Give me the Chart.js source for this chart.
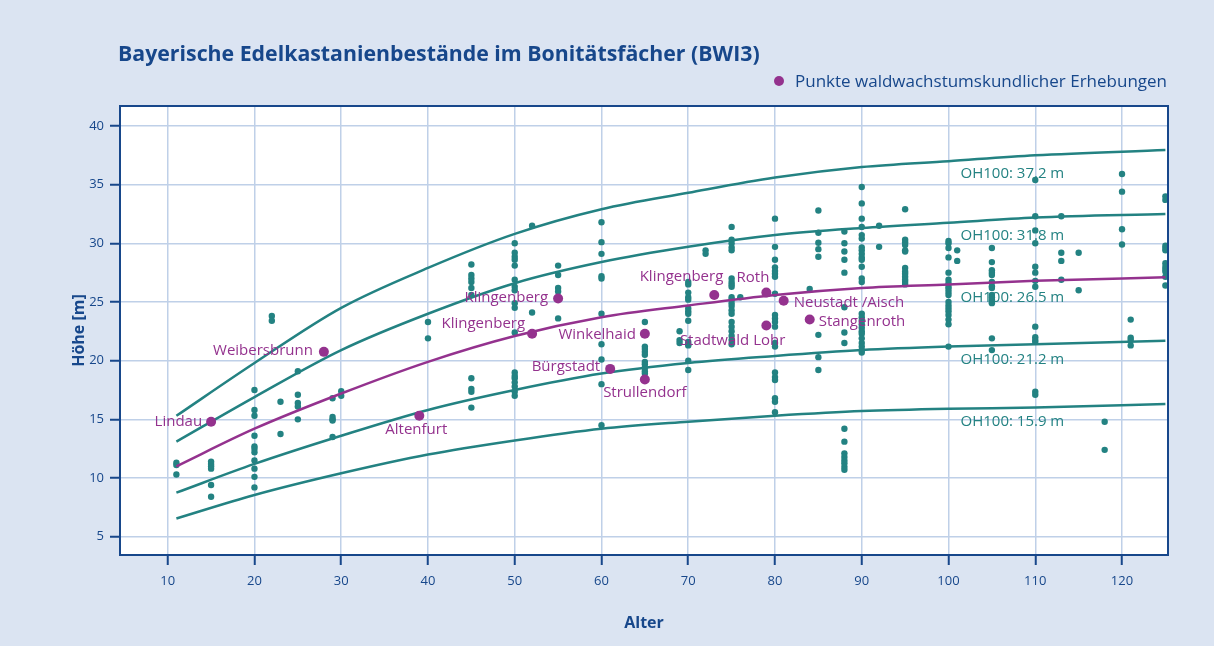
<!DOCTYPE html>
<html>
<head>
<meta charset="utf-8">
<script src="https://cdn.jsdelivr.net/npm/chart.js@4/dist/chart.umd.min.js"></script>
<style>
  body { margin: 0; background: #dbe4f2; font-family: "Open Sans", sans-serif; }
  #wrap { position: relative; width: 1214px; height: 646px; }
  #title { position: absolute; left: 118px; top: 39px; font-size: 21.3px; line-height: 28px; font-weight: bold; color: #17478b; white-space: nowrap; }
  #legend { position: absolute; left: 774px; top: 69px; font-size: 17px; line-height: 24px; color: #17478b; white-space: nowrap; }
  #legend span { display: inline-block; width: 10px; height: 10px; border-radius: 50%; background: #94328e; margin-right: 11px; vertical-align: 1px; }
  canvas { position: absolute; left: 0; top: 0; }
</style>
</head>
<body>
<div id="wrap">
  <canvas id="bonitaet" width="1214" height="646"></canvas>
  <div id="title">Bayerische Edelkastanienbestände im Bonitätsfächer (BWI3)</div>
  <div id="legend"><span></span>Punkte waldwachstumskundlicher Erhebungen</div>
</div>
<script>
// Bonitätsfächer: Oberhöhe (OH100) curves
var curveAges = [11, 20, 30, 40, 50, 60, 70, 80, 90, 100, 110, 125];
var oh372 = [15.3, 19.8, 24.5, 27.9, 30.8, 32.9, 34.3, 35.6, 36.5, 37.0, 37.5, 37.95];
var oh318 = [13.1, 16.9, 20.9, 24.0, 26.6, 28.4, 29.7, 30.7, 31.3, 31.75, 32.2, 32.5];
var oh265 = [11.0, 14.2, 17.2, 19.9, 22.1, 23.7, 24.7, 25.6, 26.2, 26.5, 26.8, 27.1];
var oh212 = [8.75, 11.2, 13.6, 15.8, 17.5, 18.9, 19.8, 20.4, 20.9, 21.2, 21.4, 21.7];
var oh159 = [6.55, 8.55, 10.4, 12.0, 13.2, 14.2, 14.8, 15.3, 15.7, 15.9, 16.0, 16.3];
var curveNames = ['OH100: 37.2 m', 'OH100: 31.8 m', 'OH100: 26.5 m', 'OH100: 21.2 m', 'OH100: 15.9 m'];

// BWI3 sample plots, grouped by age
var bwiAges = [11, 15, 20, 22, 23, 25, 29, 30, 40, 45, 50, 52, 55, 60, 65, 69, 70, 72, 75, 76, 80, 84, 85, 88, 90, 92, 95, 100, 101, 105, 110, 113, 115, 118, 120, 121, 125];
var bwiHeights = [
  [11.3, 11.1, 10.3],
  [11.4, 11.2, 11.0, 10.8, 9.4, 8.4],
  [17.5, 15.8, 15.3, 13.6, 12.7, 12.5, 12.2, 11.5, 10.8, 10.1, 9.2],
  [23.8, 23.4],
  [16.5, 13.75],
  [19.1, 17.1, 16.4, 16.1, 15.0],
  [16.8, 15.2, 15.0, 14.9, 13.5],
  [17.4, 17.0],
  [23.3, 21.9],
  [28.2, 27.3, 27.0, 26.7, 26.2, 25.6, 18.5, 17.6, 17.35, 16.0],
  [30.0, 29.2, 28.85, 28.6, 28.1, 26.9, 26.3, 26.0, 24.9, 24.5, 22.4, 19.0, 18.7, 18.5, 18.15, 17.8, 17.35, 17.0],
  [31.5, 24.1],
  [28.1, 27.3, 26.2, 25.9, 23.6],
  [31.8, 30.1, 29.1, 27.2, 27.0, 24.0, 21.4, 20.1, 18.0, 14.5],
  [23.3, 21.2, 21.0, 20.75, 20.5, 19.9, 19.7, 19.4, 19.1, 18.9],
  [22.5, 21.75, 21.5],
  [26.7, 26.5, 25.8, 25.4, 25.2, 24.45, 24.2, 24.0, 23.4, 21.6, 21.4, 21.3, 20.0, 19.2],
  [29.4, 29.1],
  [31.4, 30.3, 30.0, 29.65, 29.4, 27.0, 26.7, 26.5, 26.3, 25.4, 25.2, 24.9, 24.65, 24.3, 24.0, 23.3, 22.9, 22.5, 22.1, 21.75, 21.4],
  [25.4],
  [32.1, 29.7, 28.6, 27.95, 27.65, 27.4, 27.15, 25.7, 23.9, 23.6, 23.3, 22.9, 21.5, 21.2, 19.0, 18.6, 18.35, 16.8, 16.5, 15.6],
  [26.1],
  [32.8, 30.9, 30.05, 29.5, 28.85, 22.2, 20.3, 19.2],
  [31.0, 30.0, 29.3, 28.6, 27.5, 24.55, 22.4, 21.5, 14.2, 13.1, 12.1, 11.8, 11.5, 11.25, 10.95, 10.7],
  [34.8, 33.4, 32.1, 31.4, 30.7, 30.4, 29.65, 29.4, 29.1, 28.8, 28.6, 28.0, 27.0, 26.7, 24.0, 23.7, 23.4, 23.1, 22.8, 22.5, 22.3, 21.9, 21.5, 21.2, 20.9, 20.7],
  [31.5, 29.7],
  [32.9, 30.3, 30.1, 29.85, 29.4, 29.3, 27.9, 27.6, 27.4, 27.15, 26.9, 26.7, 26.5],
  [30.2, 30.0, 29.6, 28.8, 27.5, 26.9, 26.6, 26.3, 26.1, 25.85, 25.6, 25.0, 24.7, 24.45, 24.2, 23.9, 23.5, 23.1, 21.2],
  [29.4, 28.5],
  [29.6, 28.4, 27.7, 27.5, 27.3, 26.7, 26.35, 26.2, 25.6, 25.4, 25.2, 25.0, 24.9, 21.9, 20.9],
  [35.4, 32.3, 31.1, 30.0, 28.0, 27.5, 26.8, 26.3, 22.9, 22.0, 21.75, 21.6, 17.35, 17.1],
  [32.3, 29.2, 28.5, 26.9],
  [29.2, 26.0],
  [14.8, 12.4],
  [35.9, 34.4, 31.2, 29.9],
  [23.5, 21.95, 21.75, 21.3],
  [34.0, 33.7, 29.8, 29.6, 29.4, 28.3, 28.0, 27.8, 27.6, 27.15, 26.4]
];

// waldwachstumskundliche Versuchsflächen
var siteNames = ['Lindau', 'Weibersbrunn', 'Altenfurt', 'Klingenberg', 'Klingenberg', 'Bürgstadt', 'Winkelhaid', 'Strullendorf', 'Klingenberg', 'Roth', 'Stadtwald Lohr', 'Neustadt /Aisch', 'Stangenroth'];
var siteAges = [15, 28, 39, 52, 55, 61, 65, 65, 73, 79, 79, 81, 84];
var siteHeights = [14.8, 20.75, 15.3, 22.3, 25.3, 19.3, 22.3, 18.4, 25.6, 25.8, 23.0, 25.1, 23.5];

var TEAL = '#238282';
var PURPLE = '#94328e';
var DARKBLUE = '#17478b';
var GRID = '#bfd0e8';
var FONT = '"Open Sans", sans-serif';

// where each site name sits next to its point: dx, dy, align
var siteLabelPos = [
  [-9, 0, 'right'], [-11, -1, 'right'], [-3, 14, 'center'], [-7, -10, 'right'],
  [-10, -1, 'right'], [-10, -2, 'right'], [-9, 1, 'right'], [0, 13, 'center'],
  [9, -18, 'right'], [3, -15, 'right'], [19, 15, 'right'], [10, 2, 'left'], [9, 2, 'left']
];

function xy(xs, ys) {
  return xs.map(function (x, i) { return {x: x, y: ys[i]}; });
}

var bwiPoints = [];
bwiAges.forEach(function (age, i) {
  bwiHeights[i].forEach(function (h) { bwiPoints.push({x: age, y: h}); });
});

function curve(values, color) {
  return {
    type: 'line',
    data: xy(curveAges, values),
    borderColor: color,
    borderWidth: 2.5,
    pointRadius: 0,
    fill: false,
    cubicInterpolationMode: 'monotone'
  };
}

var plotFrame = {
  id: 'plotFrame',
  beforeDraw: function (chart) {
    var a = chart.chartArea, c = chart.ctx;
    c.save();
    c.fillStyle = '#ffffff';
    c.fillRect(a.left, a.top, a.right - a.left, a.bottom - a.top);
    c.restore();
  },
  afterDraw: function (chart) {
    var a = chart.chartArea, c = chart.ctx;
    c.save();
    c.strokeStyle = DARKBLUE;
    c.lineWidth = 2;
    c.strokeRect(a.left, a.top, a.right - a.left, a.bottom - a.top);
    c.restore();
  }
};

var textLabels = {
  id: 'textLabels',
  afterDatasetsDraw: function (chart) {
    var c = chart.ctx, xs = chart.scales.x, ys = chart.scales.y;
    c.save();
    c.font = '15px ' + FONT;
    c.textBaseline = 'middle';

    // curve names
    c.fillStyle = TEAL;
    c.textAlign = 'left';
    var i100 = curveAges.indexOf(100);
    [oh372, oh318, oh265, oh212, oh159].forEach(function (vals, i) {
      c.fillText(curveNames[i], xs.getPixelForValue(100) + 12, ys.getPixelForValue(vals[i100]) + 13);
    });

    // site names
    c.fillStyle = PURPLE;
    siteNames.forEach(function (name, i) {
      var p = siteLabelPos[i];
      c.textAlign = p[2];
      c.fillText(name, xs.getPixelForValue(siteAges[i]) + p[0], ys.getPixelForValue(siteHeights[i]) + p[1]);
    });
    c.restore();
  }
};

var ctx = document.getElementById('bonitaet').getContext('2d');
var chart = new Chart(ctx, {
  type: 'scatter',
  data: {
    datasets: [
      {
        data: xy(siteAges, siteHeights),
        backgroundColor: PURPLE,
        borderWidth: 0,
        pointRadius: 5
      },
      curve(oh372, TEAL),
      curve(oh318, TEAL),
      curve(oh265, PURPLE),
      curve(oh212, TEAL),
      curve(oh159, TEAL),
      {
        data: bwiPoints,
        backgroundColor: TEAL,
        borderWidth: 0,
        pointRadius: 3.2
      }
    ]
  },
  options: {
    responsive: false,
    animation: false,
    layout: { padding: { top: 106, right: 46, left: 0, bottom: 0 } },
    plugins: {
      legend: { display: false },
      tooltip: { enabled: false }
    },
    scales: {
      x: {
        type: 'linear',
        min: 4.5,
        max: 125.3,
        afterFit: function (s) { s.height = 91; },
        ticks: {
          stepSize: 10,
          includeBounds: false,
          padding: 8,
          color: DARKBLUE,
          font: { family: FONT, size: 13 }
        },
        grid: { color: GRID, lineWidth: 1.5, tickLength: 10, tickColor: DARKBLUE, tickWidth: 2 },
        border: { display: true, color: DARKBLUE, width: 2 },
        title: {
          display: true,
          text: 'Alter',
          color: DARKBLUE,
          font: { family: FONT, size: 16, weight: 'bold' },
          padding: { top: 0, bottom: 13 }
        }
      },
      y: {
        min: 3.44,
        max: 41.7,
        afterFit: function (s) { s.width = 120; },
        ticks: {
          stepSize: 5,
          includeBounds: false,
          padding: 6,
          color: DARKBLUE,
          font: { family: FONT, size: 13 }
        },
        grid: { color: GRID, lineWidth: 1.5, tickLength: 10, tickColor: DARKBLUE, tickWidth: 2 },
        border: { display: true, color: DARKBLUE, width: 2 },
        title: {
          display: true,
          text: 'Höhe [m]',
          color: DARKBLUE,
          font: { family: FONT, size: 16, weight: 'bold' },
          padding: { top: 70, bottom: 0 }
        }
      }
    }
  },
  plugins: [plotFrame, textLabels]
});
</script>
</body>
</html>
